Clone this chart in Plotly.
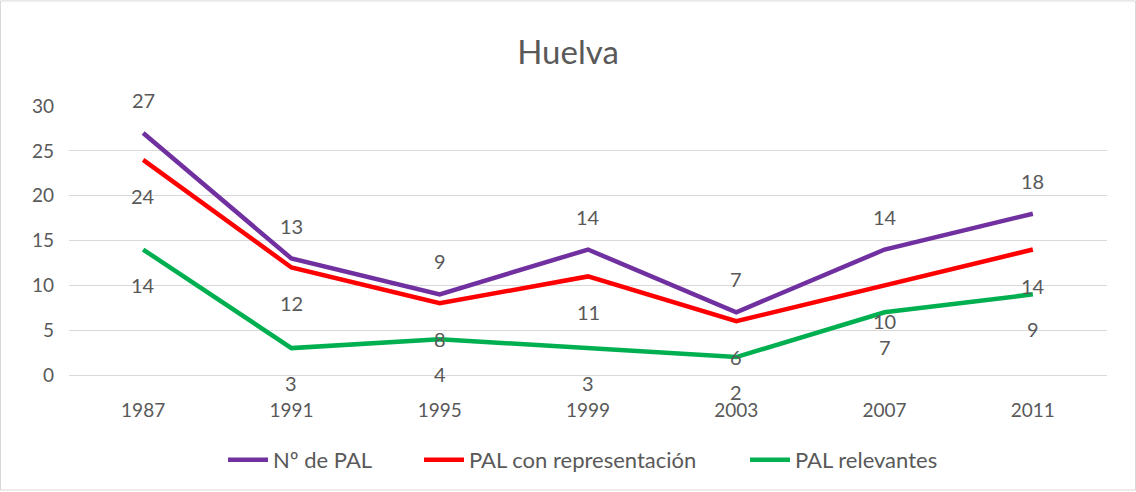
import plotly.graph_objects as go

years = ["1987", "1991", "1995", "1999", "2003", "2007", "2011"]
n_pal = [27, 13, 9, 14, 7, 14, 18]
pal_rep = [24, 12, 8, 11, 6, 10, 14]
pal_rel = [14, 3, 4, 3, 2, 7, 9]

series = [
    ("Nº de PAL", n_pal, "#7030A0", 33, "legend", 271),
    ("PAL con representación", pal_rep, "#FF0000", -36, "legend2", 467),
    ("PAL relevantes", pal_rel, "#00B050", -35, "legend3", 793),
]

W, H = 1136, 492
ML, MR, MT, MB = 69, 29, 106, 116
FONT = "Lato, Carlito, Calibri, sans-serif"
TXT = "#595959"
pw = W - ML - MR
ph = H - MT - MB

fig = go.Figure()
annotations = []
legends = {}
for name, vals, col, shift, leg, txt_x in series:
    fig.add_trace(go.Scatter(x=years, y=vals, name=name, mode="lines", legend=leg,
                             line=dict(color=col, width=4.5)))
    for i, v in enumerate(vals):
        annotations.append(dict(x=i, y=v, xref="x", yref="y", text=str(v), showarrow=False,
                                yshift=shift, font=dict(size=20, color=TXT, family=FONT)))
    legends[leg] = dict(orientation="h", x=(txt_x - 48 - ML) / pw, xanchor="left",
                        y=1 - (460 - MT) / ph, yanchor="middle", bgcolor="rgba(0,0,0,0)",
                        font=dict(size=22, color=TXT, family=FONT), itemwidth=40)

shapes = [dict(type="rect", xref="paper", yref="paper",
               x0=(-ML + 0.5) / pw, x1=(pw + MR - 0.5) / pw,
               y0=(-MB + 0.5) / ph, y1=(ph + MT - 0.5) / ph,
               line=dict(color="#D9D9D9", width=1), fillcolor="rgba(0,0,0,0)", layer="below")]

fig.update_layout(
    width=W, height=H,
    margin=dict(l=ML, r=MR, t=MT, b=MB),
    paper_bgcolor="white", plot_bgcolor="white",
    font=dict(family=FONT, color=TXT, size=18),
    title=dict(text="Huelva", x=0.5, xanchor="center", y=1 - 52 / H, yanchor="middle",
               font=dict(size=33, color=TXT, family=FONT)),
    xaxis=dict(type="category", range=[-0.5, 6.5], showgrid=False, showline=True, linecolor="#D9D9D9",
               ticks="", ticklabelstandoff=18, tickfont=dict(size=19, color=TXT)),
    yaxis=dict(range=[0, 30.02], dtick=5, showgrid=True, gridcolor="#D9D9D9", gridwidth=1,
               zeroline=False, showline=False, ticks="", ticklabelstandoff=14,
               tickfont=dict(size=19, color=TXT)),
    annotations=annotations,
    shapes=shapes,
    showlegend=True,
    **legends,
)

fig.write_html("out.html", config={"displayModeBar": False},
               post_script="document.body.style.margin='0';document.body.style.overflow='hidden';")
